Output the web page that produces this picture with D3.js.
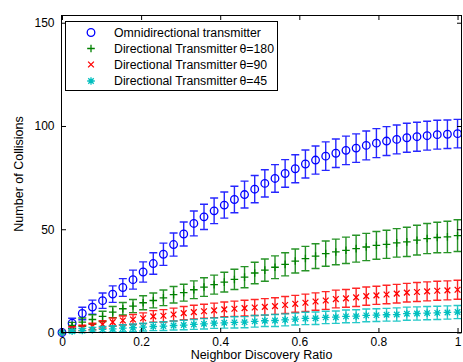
<!DOCTYPE html>
<html><head><meta charset="utf-8">
<script src="https://cdn.jsdelivr.net/npm/d3@7/dist/d3.min.js"></script>
<style>
html,body{margin:0;padding:0;background:#fff;}
svg{display:block;font-family:"Liberation Sans",Arial,Helvetica,sans-serif;}
</style></head>
<body>
<svg id="chart" width="463" height="362"></svg>
<script>
// ---- data ----
const xValues = [0, 0.0256, 0.0513, 0.0769, 0.1026, 0.1282, 0.1538, 0.1795, 0.2051, 0.2308,
  0.2564, 0.2821, 0.3077, 0.3333, 0.3590, 0.3846, 0.4103, 0.4359, 0.4615, 0.4872,
  0.5128, 0.5385, 0.5641, 0.5897, 0.6154, 0.6410, 0.6667, 0.6923, 0.7179, 0.7436,
  0.7692, 0.7949, 0.8205, 0.8462, 0.8718, 0.8974, 0.9231, 0.9487, 0.9744, 1];

const omniValues = [0, 4.5, 9.2, 12.3, 15.4, 18.6, 21.8, 25.6, 29.3, 33.4,
  37.9, 42.6, 47.7, 52.8, 56, 58.9, 61.7, 64.4, 66.8, 69.4,
  72.2, 74.6, 77, 79.3, 81.6, 83.5, 85.4, 86.8, 88.2, 89.3,
  90.6, 91.7, 92.7, 93.5, 94.3, 94.8, 95.3, 95.8, 96, 96.3];
const omniErr = [0, 2.4, 3, 3.4, 3.7, 4, 4.3, 4.6, 4.9, 5.2,
  5.4, 5.6, 5.8, 6, 6.1, 6.2, 6.3, 6.4, 6.5, 6.6,
  6.6, 6.7, 6.7, 6.8, 6.8, 6.8, 6.9, 6.9, 6.9, 6.9,
  7, 7, 7, 7, 7, 7, 7, 7, 6.9, 6.9];

const dir180Values = [0, 3.4, 5, 6.3, 7.8, 9.9, 11.5, 12.8, 14.4, 15.5,
  16.8, 18.3, 19.3, 20.7, 22, 23.2, 24.4, 25.7, 26.8, 28.8,
  30.2, 31.6, 33, 34.6, 35.8, 37, 38.2, 39, 39.8, 40.6,
  41.4, 42.2, 42.7, 43.4, 43.9, 44.7, 45.5, 46, 46.3, 46.9];
const dir180Err = [0, 1.5, 2, 2.3, 2.5, 2.7, 3, 3.2, 3.4, 3.6,
  3.8, 4, 4.1, 4.3, 4.5, 4.6, 4.8, 4.9, 5.1, 5.2,
  5.4, 5.5, 5.6, 5.8, 5.9, 6, 6.1, 6.2, 6.4, 6.5,
  6.6, 6.7, 6.8, 6.9, 7.1, 7.2, 7.3, 7.4, 7.6, 7.7];

const dir90Values = [0, 1.8, 2.2, 2.9, 3.9, 5, 5.8, 6.3, 6.9, 7.8,
  8.1, 8.7, 9.4, 9.9, 10.3, 10.7, 11.2, 11.5, 11.8, 12.1,
  12.4, 12.8, 13.3, 13.9, 14.4, 15, 15.5, 16.2, 16.5, 17,
  17.6, 18, 18.4, 18.8, 19.3, 19.6, 19.9, 20.2, 20.4, 20.7];
const dir90Err = [0, 1, 1.3, 1.6, 1.8, 2, 2.2, 2.4, 2.6, 2.8,
  3, 3.1, 3.2, 3.3, 3.4, 3.5, 3.6, 3.7, 3.8, 3.9,
  4, 4, 4.1, 4.1, 4.2, 4.2, 4.3, 4.3, 4.3, 4.4,
  4.4, 4.4, 4.5, 4.5, 4.5, 4.6, 4.6, 4.6, 4.6, 4.6];

const dir45Values = [0, 0.6, 1, 1.3, 1.5, 1.8, 2.1, 2.3, 2.6, 2.9,
  3.1, 3.4, 3.6, 3.9, 4.2, 4.5, 4.7, 4.9, 5, 5.4,
  5.7, 5.8, 6.1, 6.5, 6.8, 6.9, 7.3, 7.4, 7.8, 7.9,
  8.3, 8.4, 8.6, 8.7, 9.1, 9.2, 9.4, 9.5, 9.7, 9.9];
const dir45Err = [0, 0.8, 1, 1.2, 1.4, 1.5, 1.7, 1.8, 1.9, 2,
  2.1, 2.2, 2.3, 2.4, 2.5, 2.5, 2.6, 2.7, 2.7, 2.8,
  2.8, 2.9, 2.9, 2.9, 3, 3, 3, 3, 3.1, 3.1,
  3.1, 3.1, 3.1, 3.2, 3.2, 3.2, 3.2, 3.2, 3.2, 3.2];

const seriesNames = ["Omnidirectional transmitter",
  "Directional Transmitter\u2009\u03b8=180",
  "Directional Transmitter\u2009\u03b8=90",
  "Directional Transmitter\u2009\u03b8=45"];
const seriesColors = ["#0000ff", "#008000", "#ff0000", "#00bfbf"];
const seriesMarkers = ["circle", "plus", "cross", "star"];

const xTicks = [0, 0.2, 0.4, 0.6, 0.8, 1];
const yTicks = [0, 50, 100, 150];
const xLabel = "Neighbor Discovery Ratio";
const yLabel = "Number of Collisions";

// ---- chart ----
const series = [
  {name: seriesNames[0], color: seriesColors[0], marker: seriesMarkers[0], v: omniValues, e: omniErr},
  {name: seriesNames[1], color: seriesColors[1], marker: seriesMarkers[1], v: dir180Values, e: dir180Err},
  {name: seriesNames[2], color: seriesColors[2], marker: seriesMarkers[2], v: dir90Values, e: dir90Err},
  {name: seriesNames[3], color: seriesColors[3], marker: seriesMarkers[3], v: dir45Values, e: dir45Err}
];

const svg = d3.select("#chart");
const L = 61.5, R = 461.5, T = 15.5, B = 332.5;
const x = d3.scaleLinear().domain([0, 1.01]).range([L + 0.5, R]);
const y = d3.scaleLinear().domain([0, 153.5]).range([B, T]);

function markerPath(type, s) {
  switch (type) {
    case "circle": return null;
    case "plus": return `M${-s},0H${s}M0,${-s}V${s}`;
    case "cross": { const k = s * 0.8; return `M${-k},${-k}L${k},${k}M${-k},${k}L${k},${-k}`; }
    case "star": { const k = s * 0.72; return `M${-s},0H${s}M0,${-s}V${s}M${-k},${-k}L${k},${k}M${-k},${k}L${k},${-k}`; }
  }
}
function drawMarker(g, type, color) {
  if (type === "circle") {
    g.append("circle").attr("r", 3.8).attr("fill", "none").attr("stroke", color).attr("stroke-width", 1.3);
  } else {
    g.append("path").attr("d", markerPath(type, type === "cross" ? 3.6 : 3.8))
      .attr("fill", "none").attr("stroke", color).attr("stroke-width", 1.3);
  }
}

const plot = svg.append("g");
const cap = 4;
series.forEach(s => {
  const g = plot.append("g");
  xValues.forEach((xv, i) => {
    const cx = x(xv), v = s.v[i], e = s.e[i];
    if (e > 0) {
      const y1 = y(v - e), y2 = y(v + e);
      g.append("path")
        .attr("d", `M${cx},${y1}V${y2}M${cx - cap},${y1}H${cx + cap}M${cx - cap},${y2}H${cx + cap}`)
        .attr("fill", "none").attr("stroke", s.color).attr("stroke-width", 1.4).attr("stroke-opacity", 0.85);
    }
    const mg = g.append("g").attr("transform", `translate(${cx},${y(v)})`);
    drawMarker(mg, s.marker, s.color);
  });
});

// axes box
svg.append("rect").attr("x", L).attr("y", T).attr("width", R - L).attr("height", B - T)
  .attr("fill", "none").attr("stroke", "#000").attr("stroke-width", 1);

const tl = 4.5;
const axB = svg.append("g").attr("transform", `translate(0,${B})`)
  .call(d3.axisBottom(x).tickValues(xTicks).tickSize(-tl).tickPadding(5).tickFormat(d3.format("~g")));
const axT = svg.append("g").attr("transform", `translate(0,${T})`)
  .call(d3.axisTop(x).tickValues(xTicks).tickSize(-tl).tickFormat(""));
const axL = svg.append("g").attr("transform", `translate(${L},0)`)
  .call(d3.axisLeft(y).tickValues(yTicks).tickSize(-tl).tickPadding(7));
const axR = svg.append("g").attr("transform", `translate(${R},0)`)
  .call(d3.axisRight(y).tickValues(yTicks).tickSize(-tl).tickFormat(""));
[axB, axT, axL, axR].forEach(a => {
  a.select(".domain").remove();
  a.selectAll("text").attr("font-size", 12).attr("fill", "#000")
    .attr("font-family", '"Liberation Sans",Arial,sans-serif');
  a.selectAll("line").attr("stroke", "#000");
});

svg.append("text").attr("x", (L + R) / 2).attr("y", 358.5).attr("text-anchor", "middle")
  .attr("font-size", 12.5).text(xLabel);
svg.append("text").attr("transform", `translate(23,${(T + B) / 2}) rotate(-90)`)
  .attr("text-anchor", "middle").attr("font-size", 12.5).text(yLabel);

// legend
const lg = svg.append("g");
lg.append("rect").attr("x", 65.5).attr("y", 21.5).attr("width", 212).attr("height", 69)
  .attr("fill", "#fff").attr("stroke", "#000").attr("stroke-width", 1);
const ly = [32.5, 48.5, 64.5, 81];
series.forEach((s, i) => {
  const mg = lg.append("g").attr("transform", `translate(91,${ly[i]})`);
  drawMarker(mg, s.marker, s.color);
  lg.append("text").attr("x", 114).attr("y", ly[i]).attr("dy", "0.36em")
    .attr("font-size", 12.3).attr("fill", "#000").text(s.name);
});
</script>
</body></html>
